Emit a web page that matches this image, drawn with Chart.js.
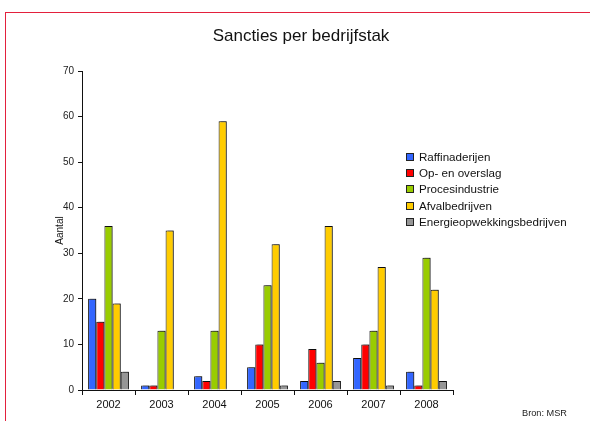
<!DOCTYPE html>
<html>
<head>
<meta charset="utf-8">
<script src="https://cdn.jsdelivr.net/npm/chart.js@4"></script>
<style>
  body { margin: 0; background: #fff; font-family: "Liberation Sans", Arial, sans-serif; }
  #wrap { position: relative; width: 590px; height: 421px; overflow: hidden; }
  #frame { position: absolute; left: 5px; top: 12px; width: 600px; height: 430px;
           border-left: 1px solid #e3203d; border-top: 1px solid #e3203d; }
  #title { position: absolute; left: 0; width: 602px; top: 26px; text-align: center;
           font-size: 17px; color: #111; }
  #legend { position: absolute; left: 406px; top: 150px; font-size: 11.6px; color: #111; }
  .item { height: 16.2px; line-height: 14px; white-space: nowrap; }
  .box { display: inline-block; width: 6px; height: 6px; border: 1px solid #222;
         margin-right: 5px; vertical-align: 0px; }
  #source { position: absolute; right: 23px; top: 408px; font-size: 9.2px; color: #222; }
  canvas { position: absolute; left: 0; top: 0; }
</style>
</head>
<body>
<div id="wrap">
  <div id="frame"></div>
  <canvas id="chart" width="590" height="421"></canvas>
  <div id="title">Sancties per bedrijfstak</div>
  <div id="legend"></div>
  <div id="source">Bron: MSR</div>
</div>
<script>
const years = ['2002', '2003', '2004', '2005', '2006', '2007', '2008'];
const seriesNames = ['Raffinaderijen', 'Op- en overslag', 'Procesindustrie', 'Afvalbedrijven', 'Energieopwekkingsbedrijven'];
const raffinaderijen = [20, 1, 3, 5, 2, 7, 4];
const opEnOverslag = [15, 1, 2, 10, 9, 10, 1];
const procesindustrie = [36, 13, 13, 23, 6, 13, 29];
const afvalbedrijven = [19, 35, 59, 32, 36, 27, 22];
const energie = [4, 0, 0, 1, 2, 1, 2];
const colors = ['#3366ff', '#ff0000', '#99cc00', '#ffcc00', '#969696'];
const yTicks = [0, 10, 20, 30, 40, 50, 60, 70];

const values = [raffinaderijen, opEnOverslag, procesindustrie, afvalbedrijven, energie];

const legend = document.getElementById('legend');
seriesNames.forEach((name, i) => {
    const row = document.createElement('div');
    row.className = 'item';
    row.innerHTML = `<span class="box" style="background:${colors[i]}"></span>${name}`;
    legend.appendChild(row);
});

// grey drop shadow behind the bars
const barShadow = {
    id: 'barShadow',
    beforeDatasetsDraw(chart) {
        const ctx = chart.ctx;
        ctx.save();
        ctx.shadowColor = 'rgba(0,0,0,0.35)';
        ctx.shadowOffsetX = 2;
        ctx.shadowOffsetY = -1;
        ctx.shadowBlur = 0;
    },
    afterDatasetsDraw(chart) {
        chart.ctx.restore();
    }
};

new Chart(document.getElementById('chart'), {
    type: 'bar',
    data: {
        labels: years,
        datasets: seriesNames.map((name, i) => ({
            label: name,
            data: values[i],
            backgroundColor: colors[i],
            borderColor: '#111',
            borderWidth: 1,
            borderSkipped: 'bottom',
            categoryPercentage: 0.77,
            barPercentage: 1
        }))
    },
    plugins: [barShadow],
    options: {
        responsive: false,
        animation: false,
        layout: { padding: { left: 54, top: 71, right: 137, bottom: 0 } },
        plugins: { legend: { display: false }, tooltip: { enabled: false } },
        scales: {
            x: {
                grid: { offset: true, drawOnChartArea: false, color: '#111', tickLength: 5 },
                border: { color: '#111', width: 1 },
                ticks: { color: '#111', font: { family: 'Liberation Sans', size: 11 }, padding: 3 },
                afterFit: s => { s.height = 31; }
            },
            y: {
                min: 0,
                max: 70,
                afterBuildTicks: s => { s.ticks = yTicks.map(v => ({ value: v })); },
                grid: { drawOnChartArea: false, color: '#111', tickLength: 4 },
                border: { color: '#111', width: 1 },
                ticks: { color: '#222', font: { family: 'Liberation Sans', size: 10 }, padding: 4 },
                title: { display: true, text: 'Aantal', color: '#111',
                         font: { family: 'Liberation Sans', size: 10 }, padding: 0 },
                afterFit: s => { s.width = 28; }
            }
        }
    }
});
</script>
</body>
</html>
